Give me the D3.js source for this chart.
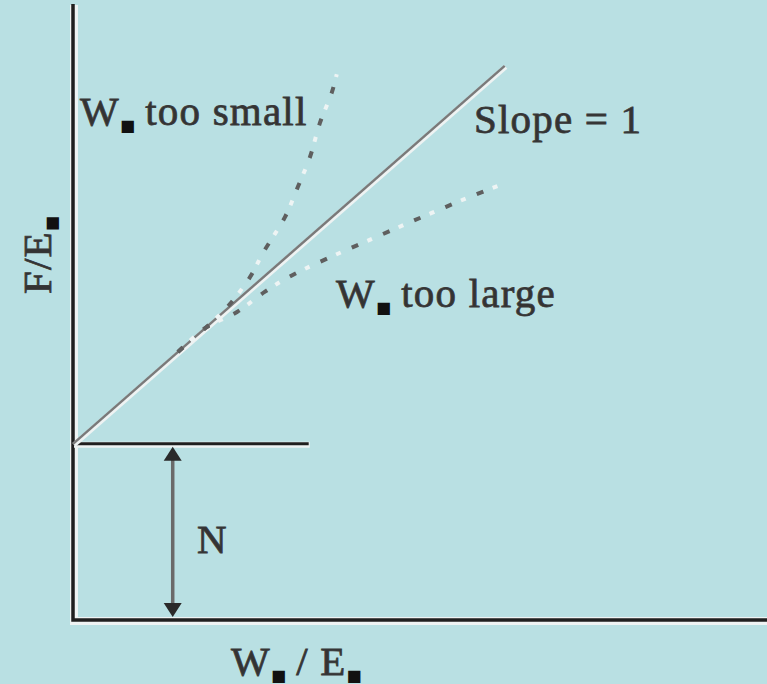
<!DOCTYPE html>
<html>
<head>
<meta charset="utf-8">
<script src="https://cdn.jsdelivr.net/npm/d3@7/dist/d3.min.js"></script>
<style>
  html, body { margin: 0; padding: 0; background: #b9e0e3; }
  svg { display: block; }
  text { font-family: "Liberation Serif", "DejaVu Serif", serif; fill: #333; stroke: #3a3a3a; stroke-width: 0.8; letter-spacing: 1.2px; }
</style>
</head>
<body>
<svg id="chart" width="767" height="684"></svg>
<script>
// Intercept N where the reference line meets the vertical axis
const intercept = 4.66;

// Ideal line (slope = 1) end points
const idealX = [0, 10];

// Curve when W0 is too small (bends upward)
const smallX = [2.43, 3.06, 3.59, 4.10, 4.40, 4.91, 5.21, 5.49, 5.72, 6.00, 6.11];
const smallY = [7.09, 7.72, 8.30, 9.07, 9.71, 10.66, 11.46, 12.25, 13.15, 13.97, 14.44];

// Curve when W0 is too large (bends downward)
const largeX = [2.43, 3.06, 3.80, 4.44, 5.09, 7.50, 8.31, 9.12, 9.95];
const largeY = [7.09, 7.72, 8.15, 8.68, 9.13, 10.37, 10.77, 11.16, 11.53];

// Extent of the horizontal baseline and position of the N arrow
const baselineEnd = 5.46;
const arrowX = 2.31;

// Labels: each piece is [text, followed by a subscript mark]
const smallLabel = [["W", true], ["too small", false]];
const largeLabel = [["W", true], ["too large", false]];
const xTitle = [["W", true], ["/ E", true]];
const yTitle = [["F/E", true]];
const slopeLabel = "Slope = 1";
const nLabel = "N";

const svg = d3.select("#chart");
const x = d3.scaleLinear().domain([0, 16.1]).range([73, 768]);
const y = d3.scaleLinear().domain([0, 16.3]).range([620, 3.9]);

const line = d3.line().x(d => x(d[0])).y(d => y(d[1]));
const curve = d3.line().x(d => x(d[0])).y(d => y(d[1])).curve(d3.curveCatmullRom.alpha(0.5));

// Haloed stroke: light underlay, dark line on top
function halo(path, gen, color, width, haloWidth) {
  svg.append("path").attr("d", gen(path)).attr("fill", "none")
    .attr("stroke", "#eef3f3").attr("stroke-width", haloWidth)
    .attr("transform", "translate(1,1)");
  svg.append("path").attr("d", gen(path)).attr("fill", "none")
    .attr("stroke", color).attr("stroke-width", width);
}

// Axes
halo([[0, 16.3], [0, 0], [16.1, 0]], line, "#1f1f1f", 3.5, 8);
// Horizontal baseline at the intercept
halo([[0, intercept], [baselineEnd, intercept]], line, "#1f1f1f", 3, 6);

// Ideal slope-1 line
const ideal = idealX.map(v => [v, intercept + v]);
halo(ideal, line, "#7a7a7a", 2.5, 5);

// Dotted curves: dark dashes alternating with pale dots
function dotted(xs, ys) {
  const pts = xs.map((v, i) => [v, ys[i]]);
  svg.append("path").attr("d", curve(pts)).attr("fill", "none")
    .attr("stroke", "#5f5f5f").attr("stroke-width", 4)
    .attr("stroke-dasharray", "7,27");
  svg.append("path").attr("d", curve(pts)).attr("fill", "none")
    .attr("stroke", "#eef4f4").attr("stroke-width", 4)
    .attr("stroke-dasharray", "5,29").attr("stroke-dashoffset", -17);
}
dotted(smallX, smallY);
dotted(largeX, largeY);

// N arrow between the axis and the baseline
const ay1 = y(intercept) + 3, ay2 = y(0) - 3;
const ax = x(arrowX);
svg.append("line").attr("x1", ax).attr("x2", ax).attr("y1", ay1 + 8).attr("y2", ay2 - 8)
  .attr("stroke", "#6a6a6a").attr("stroke-width", 3.5);
svg.append("path").attr("d", `M${ax},${ay1} L${ax - 9},${ay1 + 14} L${ax + 9},${ay1 + 14} Z`).attr("fill", "#2a2a2a");
svg.append("path").attr("d", `M${ax},${ay2} L${ax - 9},${ay2 - 14} L${ax + 9},${ay2 - 14} Z`).attr("fill", "#2a2a2a");

// Text with heavy square subscript marks
const FS = 41;
function subLabel(px, py, parts, rotate) {
  const t = svg.append("text").attr("x", px).attr("y", py).attr("font-size", FS);
  if (rotate) t.attr("transform", `rotate(-90,${px},${py})`);
  parts.forEach(([str, sub], i) => {
    t.append("tspan").attr("dx", i > 0 ? 9 : 0).attr("dy", i > 0 && parts[i - 1][1] ? -6 : 0).text(str);
    if (sub) {
      t.append("tspan").attr("font-size", 16).attr("dx", 0).attr("dy", 6)
        .attr("font-family", "DejaVu Sans").style("fill", "#111").style("stroke", "none").text("■");
    }
  });
  return t;
}

subLabel(80, 125, smallLabel);
subLabel(336, 307, largeLabel);
svg.append("text").attr("x", 474).attr("y", 133).attr("font-size", FS).text(slopeLabel);
svg.append("text").attr("x", 197).attr("y", 553).attr("font-size", FS).text(nLabel);
subLabel(231, 675, xTitle);
subLabel(51, 294, yTitle, true);
</script>
</body>
</html>
